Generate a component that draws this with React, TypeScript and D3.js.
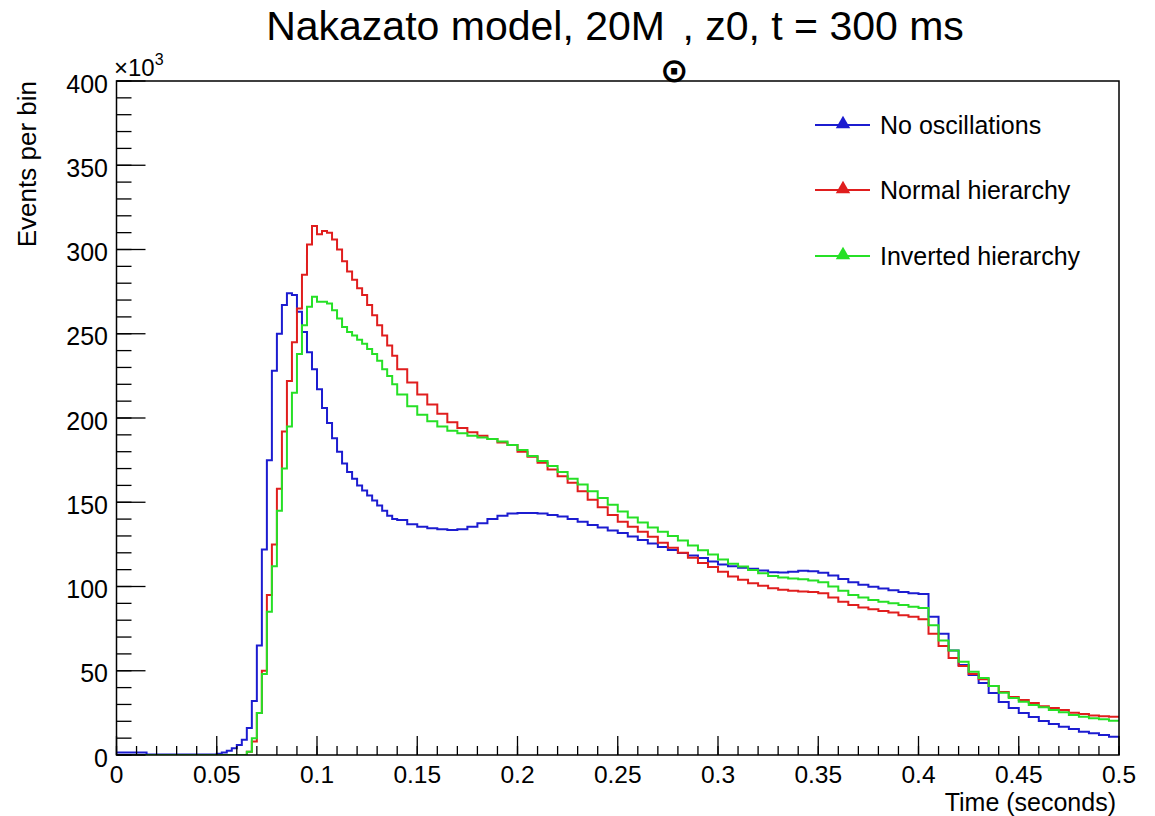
import React from "react";
import * as d3 from "d3";

// Bin edges (seconds): 5 ms bins, 2.5 ms bins around the burst, then 5 ms bins
const earlyEdges = d3.range(0, 10).map((i) => i * 0.005);
const fineEdges = d3.range(0, 36).map((i) => 0.05 + i * 0.0025);
const lateEdges = d3.range(0, 73).map((i) => 0.14 + i * 0.005);
const binEdges = [...earlyEdges, ...fineEdges, ...lateEdges];

// Events per bin (x10^3)
const noOscillations = [
  // 0 - 0.05
  1.5, 1.5, 1.5, 0.3, 0.3, 0.3, 0.3, 0.3, 0.3, 0.3,
  // 0.05 - 0.14
  0.8, 1.5, 2.5, 4, 6, 9, 16, 32, 65, 122, 175, 228, 250, 267, 274, 273, 263, 251,
  239, 229, 217, 206, 197, 188, 180, 173, 168, 164, 160, 157, 154, 151, 148, 145, 142, 140,
  // 0.14 - 0.5
  139.5, 137, 135.5, 134.5, 134, 133.5, 134, 135.5, 137.5, 140, 142, 143.3, 143.6, 143.6,
  143.3, 142.5, 141.5, 140, 138.5, 136.5, 135, 133.3, 131.7, 129.6, 127.6, 125.5, 123.4,
  121.6, 119.9, 118.4, 116.9, 114.8, 113, 112, 111.2, 110.5, 109.5, 108.5, 108.3, 108.8,
  109.3, 109, 108.2, 106.5, 104.5, 102.5, 101, 99.8, 98.8, 97.8, 96.8, 96, 95.5,
  82, 72, 62, 53.4, 47.5, 42.7, 36.8, 31.5, 27.9, 24.9, 22.5, 20.2, 18.4, 16.8, 15.4,
  13.8, 12.9, 11.9, 10.9,
];

const normalHierarchy = [
  // 0 - 0.05
  0, 0, 0, 0, 0, 0, 0, 0, 0, 0,
  // 0.05 - 0.14
  0, 0, 0, 0, 0, 0, 2, 8, 25, 50, 95, 125, 158, 192, 222, 245, 265, 285, 303, 314, 309,
  311, 310, 306, 300, 293, 287, 282, 277, 273, 267, 261, 255, 249, 243, 237,
  // 0.14 - 0.5
  229, 221, 214, 208, 202.5, 197.5, 194, 191.5, 189.5, 187.5, 185.5, 184, 180, 177, 173.5,
  169.5, 165.5, 161.5, 156.5, 151.5, 147, 142.5, 138.5, 135.5, 132.5, 129.5, 126, 123, 120,
  117, 114, 111.6, 108.8, 106, 104, 102, 100.5, 99, 98, 97.5, 97, 96.8, 96, 93.5, 91, 89,
  87.5, 86.5, 85.5, 84.5, 83, 82, 80.5,
  72, 64.7, 57.6, 52.8, 48, 45, 41, 37.4, 34.4, 32.6, 30.9, 29, 27.9, 26.7, 25.1, 24.3,
  23.5, 23, 22.7,
];

const invertedHierarchy = [
  // 0 - 0.05
  0, 0, 0, 0, 0, 0, 0, 0, 0, 0,
  // 0.05 - 0.14
  0, 0, 0, 0, 0, 0, 2, 10, 25, 48, 85, 112, 145, 170, 195, 215, 238, 255, 266, 272, 269,
  269, 268, 264, 259, 254, 251, 249, 246.5, 244, 241, 238, 234, 229, 225, 220,
  // 0.14 - 0.5
  214, 207, 202, 198, 195, 192.5, 191, 189.5, 188.5, 187.5, 186, 184, 181, 177.5, 174.5,
  171.5, 168, 164, 160.5, 156.5, 152.5, 148.5, 144.5, 141, 138, 135, 132.5, 130, 127.3,
  124.3, 121.5, 119, 116, 113.5, 111.8, 109.8, 107.8, 106.3, 105.3, 104.8, 104.3, 103.5,
  102.5, 100, 97.5, 95, 93.5, 92, 91, 90, 89, 88, 87.2,
  77, 68, 62, 55.4, 49.4, 45.7, 41, 37, 33.8, 31.6, 29.7, 28.3, 26.7, 25.3, 23.7, 22.7,
  21.8, 21.2, 20.4,
];

const seriesNames = ["No oscillations", "Normal hierarchy", "Inverted hierarchy"];
const seriesColors = ["#1c1cd0", "#e01e1e", "#26e026"];
const seriesValues = [noOscillations, normalHierarchy, invertedHierarchy];

const xTickValues = [0, 0.05, 0.1, 0.15, 0.2, 0.25, 0.3, 0.35, 0.4, 0.45, 0.5];
const xTickLabels = ["0", "0.05", "0.1", "0.15", "0.2", "0.25", "0.3", "0.35", "0.4", "0.45", "0.5"];
const yTickValues = [0, 50, 100, 150, 200, 250, 300, 350, 400];
const yTickLabels = ["0", "50", "100", "150", "200", "250", "300", "350", "400"];

const W = 1155;
const H = 816;
const left = 116.5;
const right = 1119;
const top = 81;
const bottom = 755;
const FONT = "'Liberation Sans', Arial, Helvetica, sans-serif";

export default function App() {
  const x = d3.scaleLinear().domain([0, 0.5]).range([left, right]);
  const y = d3.scaleLinear().domain([0, 400]).range([bottom, top]);

  const line = d3
    .line<[number, number]>()
    .x((d) => x(d[0]))
    .y((d) => y(d[1]))
    .curve(d3.curveStepAfter);

  const paths = seriesValues.map((vals) => {
    const pts: [number, number][] = vals.map((v, i) => [binEdges[i], v]);
    pts.push([binEdges[vals.length], vals[vals.length - 1]]);
    return line(pts) || "";
  });

  const xMinor = d3.range(0, 51).map((i) => i * 0.01);
  const yMinor = d3.range(0, 41).map((i) => i * 10);

  const legendY = [125, 190, 256];

  return (
    <svg
      width={W}
      height={H}
      style={{ position: "absolute", left: 0, top: 0, background: "#fff" }}
      fontFamily={FONT}
    >
      <rect x={0} y={0} width={W} height={H} fill="#fff" />
      {/* title */}
      <text x={615} y={40} fontSize={41} textAnchor="middle" fill="#000">
        Nakazato model, 20M
        <tspan dx={-5} dy={42} fontSize={34} fontWeight="bold" fontFamily="'DejaVu Sans', sans-serif">
          ⊙
        </tspan>
        <tspan dx={-6} dy={-42}>, z0, t = 300 ms</tspan>
      </text>

      {/* histograms */}
      <defs>
        <clipPath id="clip">
          <rect x={left} y={top - 2} width={right - left} height={bottom - top + 2} />
        </clipPath>
      </defs>
      <g clipPath="url(#clip)">
        {paths.map((p, i) => (
          <path key={i} d={p} fill="none" stroke={seriesColors[i]} strokeWidth={2} />
        ))}
      </g>

      {/* frame */}
      <rect x={left} y={top} width={right - left} height={bottom - top} fill="none" stroke="#000" strokeWidth={1.5} />

      {/* x ticks */}
      {xMinor.map((t, i) => (
        <line key={"xm" + i} x1={x(t)} x2={x(t)} y1={bottom} y2={bottom - 9} stroke="#000" strokeWidth={1.3} />
      ))}
      {xTickValues.map((t, i) => (
        <g key={"xt" + i}>
          <line x1={x(t)} x2={x(t)} y1={bottom} y2={bottom - 19} stroke="#000" strokeWidth={1.3} />
          <text x={x(t)} y={783} fontSize={24.5} textAnchor="middle" fill="#000">
            {xTickLabels[i]}
          </text>
        </g>
      ))}

      {/* y ticks */}
      {yMinor.map((v, i) => (
        <line key={"ym" + i} x1={left} x2={left + 15} y1={y(v)} y2={y(v)} stroke="#000" strokeWidth={1.3} />
      ))}
      {yTickValues.map((v, i) => (
        <g key={"yt" + i}>
          <line x1={left} x2={left + 29} y1={y(v)} y2={y(v)} stroke="#000" strokeWidth={1.3} />
          <text x={108} y={y(v) + 11.5} fontSize={25} textAnchor="end" fill="#000">
            {yTickLabels[i]}
          </text>
        </g>
      ))}
      <text x={114} y={76} fontSize={24} fill="#000">
        ×10
        <tspan dy={-11} fontSize={16}>
          3
        </tspan>
      </text>

      {/* axis titles */}
      <text x={1116} y={811} fontSize={25} textAnchor="end" fill="#000">
        Time (seconds)
      </text>
      <text transform="translate(36,81) rotate(-90)" fontSize={26} textAnchor="end" fill="#000">
        Events per bin
      </text>

      {/* legend */}
      {seriesNames.map((name, i) => (
        <g key={"lg" + i}>
          <line x1={815} x2={870} y1={legendY[i]} y2={legendY[i]} stroke={seriesColors[i]} strokeWidth={2} />
          <path
            d={d3.symbol(d3.symbolTriangle, 90)() || ""}
            transform={`translate(843,${legendY[i] - 1})`}
            fill={seriesColors[i]}
          />
          <text x={880} y={legendY[i] + 9} fontSize={25} fill="#000">
            {name}
          </text>
        </g>
      ))}
    </svg>
  );
}
